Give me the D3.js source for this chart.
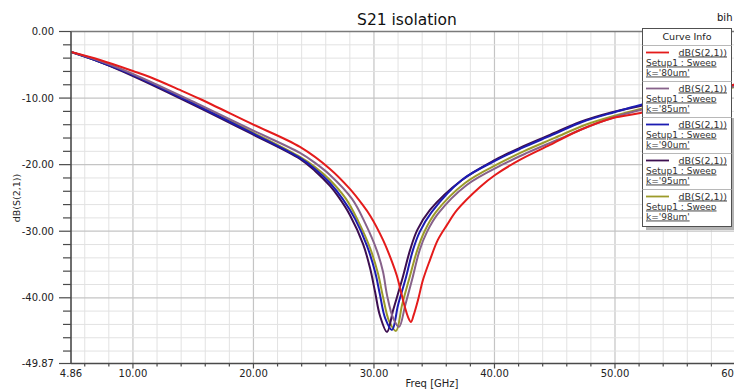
<!DOCTYPE html>
<html>
<head>
<meta charset="utf-8">
<script src="https://cdn.jsdelivr.net/npm/d3@7"></script>
<style>
  html, body { margin: 0; padding: 0; background: #fff; }
  svg { display: block; font-family: "DejaVu Sans", sans-serif; }
</style>
</head>
<body>
<div id="chart"></div>
<script>
// Swept S21 (dB) versus frequency for five values of k
const sweepLabels = ["k='80um'", "k='85um'", "k='90um'", "k='95um'", "k='98um'"];
const sweepColors = ["#e41b1b", "#87628a", "#1c1cb2", "#3d0f50", "#9c9b2a"];

const freq80 = [4.86, 7.27, 10.0, 11.4, 13.9, 15.57, 19.7, 23.86, 26.35, 28.0, 29.0, 29.7, 30.75, 31.5, 31.9, 32.24, 32.58, 32.83, 33.07, 33.3, 33.66, 34.07, 34.65, 35.3, 36.06, 36.9, 38.8, 40.05, 42.1, 44.6, 47.1, 49.84, 52.1, 56.0, 60.0];
const db80 = [-3.08, -4.28, -5.93, -6.83, -8.78, -10.14, -13.74, -17.34, -20.65, -23.65, -25.9, -27.7, -31.3, -34.6, -36.7, -39.1, -41.5, -42.9, -43.62, -42.57, -40.3, -37.3, -34.3, -31.3, -29.05, -26.8, -23.35, -21.55, -19.29, -17.04, -14.79, -12.99, -12.24, -10.4, -7.9];

const freq85 = [4.86, 7.27, 10.0, 15.57, 19.7, 23.86, 25.11, 26.35, 28.18, 29.26, 30.25, 30.75, 31.08, 31.58, 32.08, 32.6, 33.16, 33.8, 34.4, 35.3, 37.7, 40.6, 42.7, 45.2, 47.7, 50.25, 52.1, 56.0, 60.0];
const db85 = [-3.08, -4.43, -6.38, -11.04, -14.64, -18.24, -19.74, -21.55, -25.15, -28.75, -32.95, -36.1, -39.56, -43.0, -44.37, -41.07, -37.3, -32.8, -30.1, -27.4, -23.05, -20.05, -18.24, -16.29, -14.34, -12.69, -11.79, -10.0, -8.2];

const freq90 = [4.86, 7.27, 10.0, 15.57, 19.7, 23.86, 25.11, 26.35, 27.4, 28.43, 29.42, 30.09, 30.5, 30.92, 31.5, 32.0, 32.6, 33.24, 33.8, 34.8, 37.3, 40.2, 42.3, 44.8, 47.27, 50.0, 52.1, 56.0, 60.0];
const db90 = [-3.08, -4.58, -6.53, -11.34, -15.09, -18.99, -20.65, -22.75, -25.15, -28.15, -32.2, -36.1, -39.56, -43.0, -44.82, -41.07, -37.3, -32.8, -30.1, -27.1, -22.3, -19.29, -17.49, -15.54, -13.59, -12.09, -11.04, -9.5, -8.0];

const freq95 = [4.86, 7.27, 10.0, 15.57, 19.7, 23.86, 25.11, 26.35, 27.0, 28.0, 29.09, 29.67, 30.09, 30.5, 31.08, 31.6, 32.33, 33.0, 33.6, 34.65, 37.3, 40.05, 42.1, 44.6, 47.1, 49.84, 52.1, 56.0, 60.0];
const db95 = [-3.08, -4.58, -6.68, -11.49, -15.24, -19.14, -20.95, -23.2, -24.7, -27.55, -31.9, -35.5, -39.1, -42.7, -45.12, -41.8, -37.3, -32.8, -29.8, -26.8, -22.3, -19.29, -17.49, -15.54, -13.59, -12.09, -11.19, -9.6, -8.1];

const freq98 = [4.86, 7.27, 10.0, 15.57, 19.7, 23.86, 25.11, 26.35, 27.68, 28.68, 29.67, 30.34, 30.75, 31.25, 31.83, 32.33, 32.9, 33.6, 34.2, 35.15, 37.56, 40.46, 42.5, 45.0, 47.5, 50.2, 52.1, 56.0, 60.0];
const db98 = [-3.08, -4.58, -6.53, -11.19, -14.94, -18.84, -20.35, -22.3, -25.15, -28.45, -32.5, -36.4, -39.86, -43.47, -44.97, -41.07, -37.3, -32.8, -30.0, -27.1, -22.75, -19.74, -17.94, -15.99, -14.04, -12.54, -11.64, -10.0, -8.3];

const xTickValues = [4.86, 10, 20, 30, 40, 50, 60];
const yTickValues = [0, -10, -20, -30, -40, -49.87];

const series = [
  { freq: freq80, db: db80 },
  { freq: freq85, db: db85 },
  { freq: freq90, db: db90 },
  { freq: freq95, db: db95 },
  { freq: freq98, db: db98 }
].map((s, i) => ({
  label: sweepLabels[i],
  color: sweepColors[i],
  points: s.freq.map((f, j) => [f, s.db[j]])
}));

const W = 734, H = 389;
const plot = { left: 71, right: 735.5, top: 31.5, bottom: 363.5 };

const svg = d3.select("#chart").append("svg")
  .attr("width", W).attr("height", H);
svg.append("rect").attr("width", W).attr("height", H).attr("fill", "#fff");

const x = d3.scaleLinear().domain([4.86, 60]).range([plot.left, plot.right]);
const y = d3.scaleLinear().domain([-49.87, 0]).range([plot.bottom, plot.top]);

// grid
const grid = svg.append("g");
d3.range(6, 60, 2).forEach(v => {
  const major = v % 10 === 0;
  grid.append("line")
    .attr("x1", x(v)).attr("x2", x(v))
    .attr("y1", plot.top).attr("y2", plot.bottom)
    .attr("stroke", major ? "#c4c4c4" : "#e2e2e2")
    .attr("stroke-width", major ? 1.2 : 1);
});
d3.range(-48, 0, 2).forEach(v => {
  const major = v % 10 === 0;
  grid.append("line")
    .attr("x1", plot.left).attr("x2", plot.right)
    .attr("y1", y(v)).attr("y2", y(v))
    .attr("stroke", major ? "#c4c4c4" : "#e2e2e2")
    .attr("stroke-width", major ? 1.2 : 1);
});
// top frame line
grid.append("line")
  .attr("x1", plot.left).attr("x2", plot.right)
  .attr("y1", plot.top).attr("y2", plot.top)
  .attr("stroke", "#7a7a7a").attr("stroke-width", 1.5);

// curves
svg.append("clipPath").attr("id", "plotClip")
  .append("rect")
  .attr("x", plot.left).attr("y", plot.top - 2)
  .attr("width", plot.right - plot.left).attr("height", plot.bottom - plot.top + 2);

const line = d3.line()
  .x(d => x(d[0])).y(d => y(d[1]))
  .curve(d3.curveCatmullRom.alpha(0.5));

svg.append("g").attr("clip-path", "url(#plotClip)")
  .selectAll("path")
  .data(series.slice().reverse())
  .join("path")
  .attr("d", d => line(d.points))
  .attr("fill", "none")
  .attr("stroke", d => d.color)
  .attr("stroke-width", 2)
  .attr("stroke-linejoin", "round");

// axes
const axisColor = "#4a4a4a";
const yAxis = svg.append("g");
yAxis.append("line")
  .attr("x1", plot.left).attr("x2", plot.left)
  .attr("y1", plot.top).attr("y2", plot.bottom)
  .attr("stroke", axisColor).attr("stroke-width", 1.6);
d3.range(-48, 0, 2).forEach(v => {
  if (v % 10 === 0) return;
  yAxis.append("line")
    .attr("x1", plot.left - 8).attr("x2", plot.left)
    .attr("y1", y(v)).attr("y2", y(v))
    .attr("stroke", axisColor).attr("stroke-width", 1.2);
});
yTickValues.forEach(v => {
  yAxis.append("line")
    .attr("x1", plot.left - 12).attr("x2", plot.left)
    .attr("y1", y(v)).attr("y2", y(v))
    .attr("stroke", axisColor).attr("stroke-width", 1.2);
  yAxis.append("text")
    .attr("x", 54).attr("y", y(v) + 3.5)
    .attr("text-anchor", "end")
    .attr("font-size", 10).attr("fill", "#222")
    .text(v.toFixed(2));
});

const xAxis = svg.append("g");
xAxis.append("line")
  .attr("x1", plot.left).attr("x2", plot.right)
  .attr("y1", plot.bottom).attr("y2", plot.bottom)
  .attr("stroke", axisColor).attr("stroke-width", 1.6);
d3.range(6, 60, 2).forEach(v => {
  const major = v % 10 === 0;
  xAxis.append("line")
    .attr("x1", x(v)).attr("x2", x(v))
    .attr("y1", plot.bottom).attr("y2", plot.bottom + (major ? 5 : 3))
    .attr("stroke", axisColor).attr("stroke-width", 1.2);
});
xTickValues.forEach(v => {
  xAxis.append("text")
    .attr("x", x(v)).attr("y", 377)
    .attr("text-anchor", "middle")
    .attr("font-size", 10).attr("fill", "#222")
    .text(v.toFixed(2));
});

// axis titles
svg.append("text")
  .attr("x", 432).attr("y", 387)
  .attr("text-anchor", "middle")
  .attr("font-size", 10).attr("fill", "#222")
  .text("Freq [GHz]");
svg.append("text")
  .attr("transform", "translate(20,198) rotate(-90)")
  .attr("text-anchor", "middle")
  .attr("font-size", 9.5).attr("fill", "#222")
  .text("dB(S(2,1))");

// title
svg.append("text")
  .attr("x", 407).attr("y", 25)
  .attr("text-anchor", "middle")
  .attr("font-size", 15.5).attr("fill", "#111")
  .text("S21 isolation");
svg.append("text")
  .attr("x", 717).attr("y", 21)
  .attr("font-size", 10).attr("fill", "#111")
  .text("bih");

// legend
const lg = { x: 642, y: 28, w: 89, h: 198, head: 17, row: 36 };
const legend = svg.append("g");
// drop shadow along the lower right
legend.append("rect")
  .attr("x", lg.x + lg.w).attr("y", lg.y + 90)
  .attr("width", 4).attr("height", lg.h - 86)
  .attr("fill", "#b4b4b4");
legend.append("rect")
  .attr("x", lg.x + 4).attr("y", lg.y + lg.h)
  .attr("width", lg.w).attr("height", 4)
  .attr("fill", "#b4b4b4");
legend.append("rect")
  .attr("x", lg.x + 0.5).attr("y", lg.y + 0.5)
  .attr("width", lg.w).attr("height", lg.h)
  .attr("fill", "#fff").attr("stroke", "#505050").attr("stroke-width", 1);
legend.append("text")
  .attr("x", lg.x + lg.w / 2 + 0.5).attr("y", lg.y + 12)
  .attr("text-anchor", "middle")
  .attr("font-size", 9.5).attr("fill", "#222")
  .text("Curve Info");

series.forEach((s, i) => {
  const top = lg.y + lg.head + i * lg.row;
  legend.append("line")
    .attr("x1", lg.x + 0.5).attr("x2", lg.x + lg.w + 0.5)
    .attr("y1", top + 0.5).attr("y2", top + 0.5)
    .attr("stroke", "#b8b8b8").attr("stroke-width", 1);
  legend.append("line")
    .attr("x1", lg.x + 4).attr("x2", lg.x + 27)
    .attr("y1", top + 7.5).attr("y2", top + 7.5)
    .attr("stroke", s.color).attr("stroke-width", 1.8);
  legend.append("text")
    .attr("x", lg.x + 85).attr("y", top + 10.5)
    .attr("text-anchor", "end")
    .attr("font-size", 9.5).attr("fill", "#333")
    .attr("text-decoration", "underline")
    .text("dB(S(2,1))");
  legend.append("text")
    .attr("x", lg.x + 4).attr("y", top + 20.5)
    .attr("font-size", 9).attr("fill", "#333")
    .attr("text-decoration", "underline")
    .text("Setup1 : Sweep");
  legend.append("text")
    .attr("x", lg.x + 4).attr("y", top + 30.5)
    .attr("font-size", 9).attr("fill", "#333")
    .attr("text-decoration", "underline")
    .text(s.label);
});
</script>
</body>
</html>
